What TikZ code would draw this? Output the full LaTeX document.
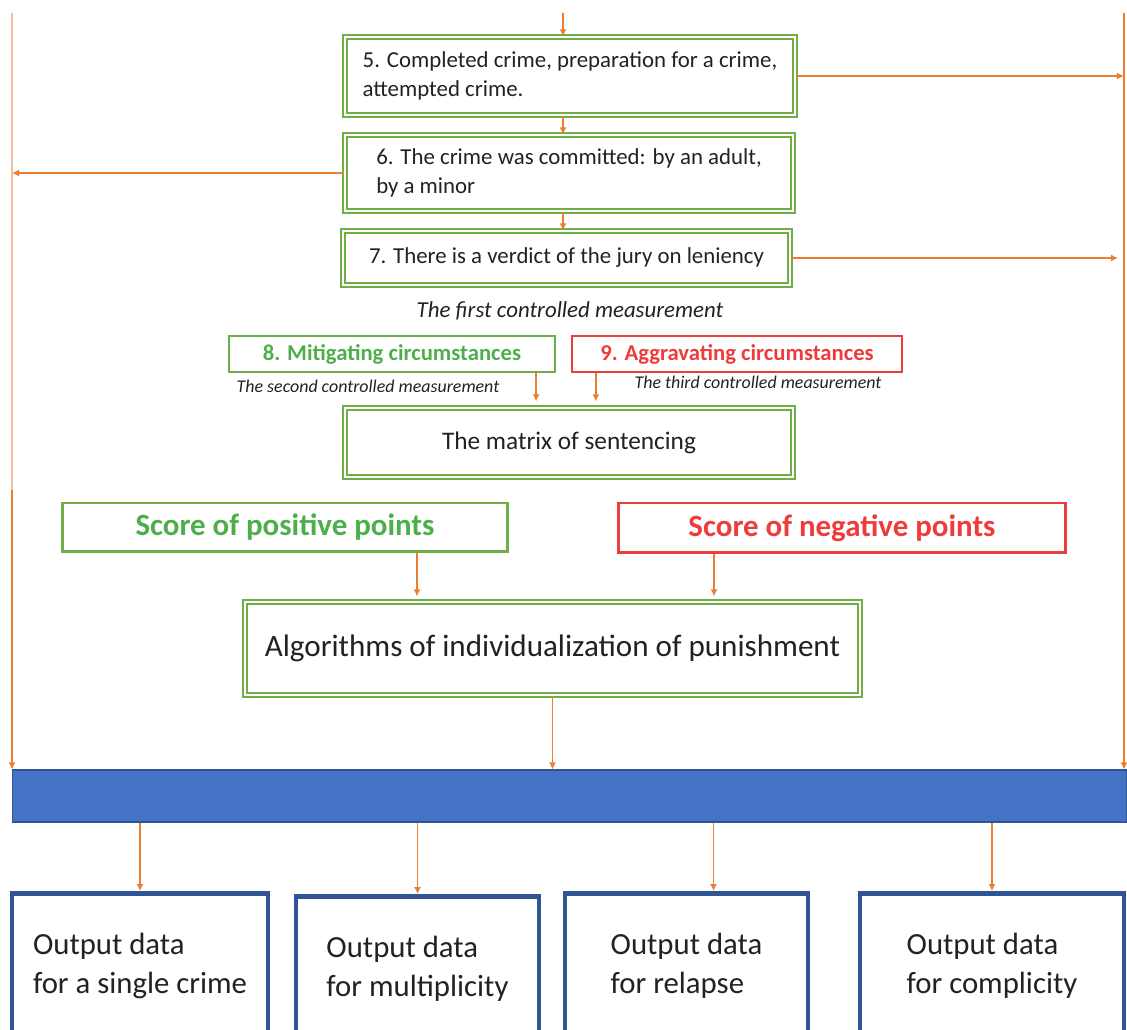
\documentclass[tikz,border=0pt]{standalone}
\usepackage{fontspec}
\setmainfont{Carlito}
\usetikzlibrary{arrows.meta}
\definecolor{ofgreen}{HTML}{70AD47}
\definecolor{txtgreen}{HTML}{4DAF4A}
\definecolor{ofred}{HTML}{EE3B3B}
\definecolor{oforange}{HTML}{ED7D31}
\definecolor{ofblue}{HTML}{4472C4}
\definecolor{darkblue}{HTML}{2F5597}
\definecolor{txt}{HTML}{222222}
\tikzset{
  arr/.style={draw=oforange, line width=0.8pt, -{Latex[length=4pt,width=4pt]}},
  dblbox/.style={draw=ofgreen, double=white, double distance=1.6pt, line width=0.7pt, fill=white, text=txt, align=left},
  gbox/.style={draw=ofgreen, line width=1.3pt, text=txtgreen, font=\fontsize{12.9}{15}\selectfont\bfseries},
  rbox/.style={draw=ofred, line width=1.3pt, text=ofred, font=\fontsize{12.9}{15}\selectfont\bfseries},
  outbox/.style={draw=darkblue, line width=2.8pt, fill=white, text=txt, align=left, minimum height=2.9cm, font=\fontsize{17.5}{22}\selectfont},
  meas/.style={text=txt, font=\fontsize{10.2}{12}\selectfont\itshape},
}
\begin{document}
\begin{tikzpicture}[x=0.02cm, y=-0.02cm]
  \useasboundingbox (0,0) rectangle (1127,1030);
  \clip (0,0) rectangle (1127,1030);
  \coordinate (top) at (563,13);
  \coordinate (ltop) at (12,13);
  \coordinate (lmid) at (12,490);
  \coordinate (rtop) at (1124,13);

  \node[dblbox, minimum width=9cm, minimum height=1.56cm, font=\fontsize{13}{16.5}\selectfont] (b5) at (570,76)
    {5. Completed crime, preparation for a crime,\\attempted crime.};
  \node[dblbox, minimum width=8.96cm, minimum height=1.52cm, font=\fontsize{13}{16.5}\selectfont] (b6) at (569,173)
    {6. The crime was committed: by an adult,\\by a minor};
  \node[dblbox, minimum width=8.94cm, minimum height=1.08cm, font=\fontsize{13}{16.5}\selectfont] (b7) at (566.5,258)
    {7. There is a verdict of the jury on leniency};
  \node[text=txt, font=\fontsize{13}{15}\selectfont\itshape] (first) at (570,311) {The first controlled measurement};
  \node[gbox, minimum width=6.52cm, minimum height=0.72cm] (b8) at (392,354) {8. Mitigating circumstances};
  \node[rbox, minimum width=6.6cm, minimum height=0.72cm] (b9) at (737,354) {9. Aggravating circumstances};
  \node[meas] (second) at (368,386) {The second controlled measurement};
  \node[meas] (third) at (758,382) {The third controlled measurement};
  \node[dblbox, minimum width=8.96cm, minimum height=1.38cm, font=\fontsize{14.4}{17}\selectfont] (mat) at (569,442.5)
    {The matrix of sentencing};
  \node[draw=ofgreen, line width=1.7pt, minimum width=8.92cm, minimum height=0.98cm, text=txtgreen,
    font=\fontsize{17.6}{20}\selectfont\bfseries] (pos) at (285,527.5) {Score of positive points};
  \node[draw=ofred, line width=1.7pt, minimum width=8.96cm, minimum height=1cm, text=ofred,
    font=\fontsize{17.6}{20}\selectfont\bfseries] (neg) at (842,528) {Score of negative points};
  \node[dblbox, minimum width=12.3cm, minimum height=1.86cm, font=\fontsize{17.7}{20}\selectfont] (alg) at (552.5,648.5)
    {Algorithms of individualization of punishment};
  \node[draw=darkblue, fill=ofblue, line width=0.6pt, minimum width=22.3cm, minimum height=1.04cm] (bar) at (569.5,796) {};
  \node[outbox, minimum width=5.12cm] (o1) at (140,966) {Output data\\for a single crime};
  \node[outbox, minimum width=4.86cm] (o2) at (417.5,969) {Output data\\for multiplicity};
  \node[outbox, minimum width=4.86cm] (o3) at (686.5,966) {Output data\\for relapse};
  \node[outbox, minimum width=5.28cm] (o4) at (992,966) {Output data\\for complicity};

  \draw[arr] (top) -- (top |- b5.north);
  \draw[arr] (b5.south -| top) -- (b6.north -| top);
  \draw[arr] (b6.south -| top) -- (b7.north -| top);
  \draw[arr] (b5.east) -- (b5.east -| rtop);
  \draw[arr] (b6.west) -- (b6.west -| ltop);
  \draw[arr, shorten >=0.12cm] (b7.east) -- (b7.east -| rtop);
  \draw[arr, shorten >=0.12cm] ([xshift=-0.4cm]b8.south east) -- ([xshift=-0.4cm]b8.south east |- mat.north);
  \draw[arr, shorten >=0.12cm] ([xshift=0.5cm]b9.south west) -- ([xshift=0.5cm]b9.south west |- mat.north);
  \draw[arr, shorten >=0.1cm] ([xshift=2.64cm]pos.south) -- ([xshift=2.64cm]pos.south |- alg.north);
  \draw[arr, shorten >=0.1cm] ([xshift=-2.56cm]neg.south) -- ([xshift=-2.56cm]neg.south |- alg.north);
  \draw[arr] (alg.south) -- (alg.south |- bar.north);
  \draw[draw=oforange!50, line width=0.8pt] (ltop) -- (lmid);
  \draw[arr] (lmid) -- (lmid |- bar.north);
  \draw[arr] (rtop) -- (rtop |- bar.north);
  \draw[arr] (o1.north |- bar.south) -- (o1.north);
  \draw[arr] (o2.north |- bar.south) -- (o2.north);
  \draw[arr] ([xshift=0.54cm]o3.north |- bar.south) -- ([xshift=0.54cm]o3.north);
  \draw[arr] (o4.north |- bar.south) -- (o4.north);
\end{tikzpicture}
\end{document}
